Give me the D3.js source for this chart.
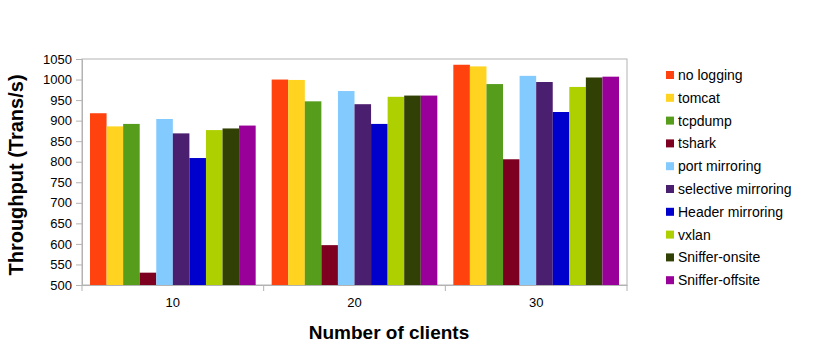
<!DOCTYPE html>
<html>
<head>
<meta charset="utf-8">
<script src="https://cdn.jsdelivr.net/npm/d3@7"></script>
<style>
  body { margin: 0; background: #fff; }
  text { font-family: "Liberation Sans", Arial, sans-serif; }
</style>
</head>
<body>
<div id="chart"></div>
<script>
// data
var clients = ["10", "20", "30"];
var seriesNames = ["no logging", "tomcat", "tcpdump", "tshark", "port mirroring",
  "selective mirroring", "Header mirroring", "vxlan", "Sniffer-onsite", "Sniffer-offsite"];
var noLogging = [918, 1000, 1036];
var tomcat = [886, 999, 1032];
var tcpdump = [892, 947, 989];
var tshark = [530, 597, 806];
var portMirroring = [904, 972, 1009];
var selectiveMirroring = [869, 940, 994];
var headerMirroring = [809, 892, 921];
var vxlan = [877, 958, 982];
var snifferOnsite = [881, 961, 1005];
var snifferOffsite = [888, 961, 1007];
var yTicks = d3.range(500, 1051, 50);

var seriesValues = [noLogging, tomcat, tcpdump, tshark, portMirroring,
  selectiveMirroring, headerMirroring, vxlan, snifferOnsite, snifferOffsite];
var colors = ["#ff420e", "#ffd320", "#579d1c", "#7e0021", "#83caff",
  "#4b1f6f", "#0000cc", "#aecf00", "#314004", "#990099"];

var svgWidth = 835, svgHeight = 357;
var margin = { top: 59, left: 82, right: 208, bottom: 72 };
var width = 627 - margin.left;
var height = 285 - margin.top;

var svg = d3.select("#chart").append("svg")
  .attr("width", svgWidth)
  .attr("height", svgHeight);

var chartGroup = svg.append("g")
  .attr("transform", `translate(${margin.left}, ${margin.top})`);

var x0 = d3.scaleBand().domain(clients).range([0, width]);
var x1 = d3.scaleBand().domain(seriesNames)
  .range([8, x0.bandwidth() - 8]);
var y = d3.scaleLinear().domain([500, 1050]).range([height, 0]);

// frame
chartGroup.append("rect")
  .attr("width", width).attr("height", height)
  .attr("fill", "none").attr("stroke", "#b3b3b3");

// bars
clients.forEach(function(c, ci) {
  var g = chartGroup.append("g").attr("transform", `translate(${x0(c)},0)`);
  seriesNames.forEach(function(s, si) {
    var v = seriesValues[si][ci];
    g.append("rect")
      .attr("x", x1(s))
      .attr("y", y(v))
      .attr("width", x1.bandwidth())
      .attr("height", height - y(v))
      .attr("fill", colors[si]);
  });
});

// y axis
var leftAxis = d3.axisLeft(y).tickValues(yTicks).tickFormat(d3.format("d"))
  .tickSize(6).tickPadding(4);
var yAxis = chartGroup.append("g").call(leftAxis);
yAxis.select(".domain").attr("stroke", "#b3b3b3");
yAxis.selectAll(".tick line").attr("stroke", "#b3b3b3");
yAxis.selectAll("text").attr("font-size", "13px").attr("fill", "#000")
  .style("font-family", "'Liberation Sans', Arial, sans-serif");

// x axis: ticks on category boundaries
var bottomAxis = d3.axisBottom(x0).tickSize(0).tickPadding(13);
var xAxis = chartGroup.append("g")
  .attr("transform", `translate(0, ${height})`)
  .call(bottomAxis);
xAxis.select(".domain").attr("stroke", "#b3b3b3");
xAxis.selectAll("text").attr("font-size", "13px").attr("fill", "#000")
  .style("font-family", "'Liberation Sans', Arial, sans-serif");
xAxis.selectAll(".bound")
  .data(d3.range(clients.length + 1))
  .enter().append("line")
  .attr("x1", d => d * x0.bandwidth()).attr("x2", d => d * x0.bandwidth())
  .attr("y1", 0).attr("y2", 6)
  .attr("stroke", "#b3b3b3");

// axis titles
svg.append("text")
  .attr("transform", `translate(23, ${margin.top + height / 2 + 3}) rotate(-90)`)
  .attr("text-anchor", "middle")
  .attr("font-size", "20px").attr("font-weight", "bold")
  .text("Throughput (Trans/s)");

svg.append("text")
  .attr("x", 389).attr("y", 339)
  .attr("text-anchor", "middle")
  .attr("font-size", "19px").attr("font-weight", "bold")
  .text("Number of clients");

// legend
var legend = svg.append("g").attr("transform", "translate(666, 75)");
seriesNames.forEach(function(s, i) {
  var row = legend.append("g").attr("transform", `translate(0, ${i * 22.8})`);
  row.append("rect").attr("x", 0).attr("y", -4).attr("width", 8).attr("height", 8)
    .attr("fill", colors[i]);
  row.append("text").attr("x", 12).attr("y", 5)
    .attr("font-size", "14px").text(s);
});
</script>
</body>
</html>
